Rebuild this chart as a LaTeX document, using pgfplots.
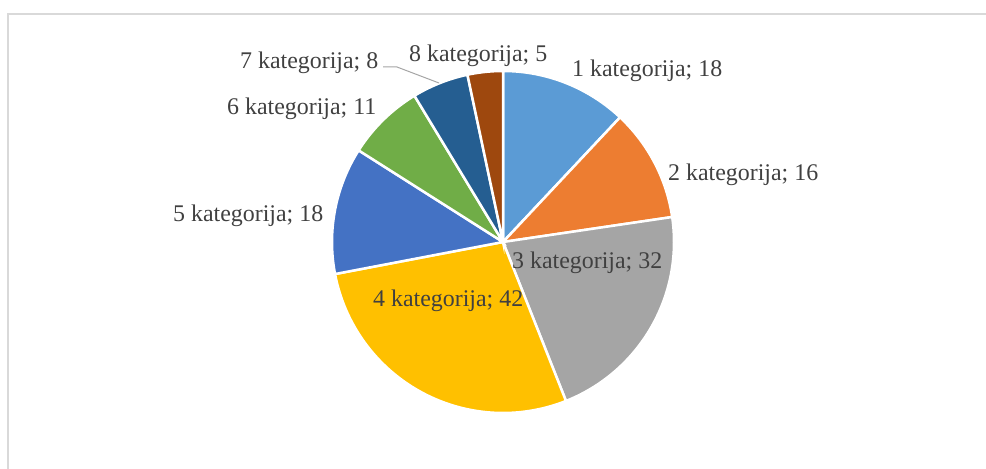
\documentclass[border=0pt]{standalone}
\usepackage{fontspec}
\setmainfont{Liberation Serif}
\usepackage{pgfplots}
\usepackage{pgfplotstable}
\pgfplotsset{compat=1.18}

\definecolor{pie0}{HTML}{5B9BD5}
\definecolor{pie1}{HTML}{ED7D31}
\definecolor{pie2}{HTML}{A5A5A5}
\definecolor{pie3}{HTML}{FFC000}
\definecolor{pie4}{HTML}{4472C4}
\definecolor{pie5}{HTML}{70AD47}
\definecolor{pie6}{HTML}{255E91}
\definecolor{pie7}{HTML}{9E480E}
\definecolor{lbl}{HTML}{404040}
\definecolor{frame}{HTML}{D9D9D9}

% category, value, label position (left x, baseline y in px from top)
\pgfplotstableread{
cat value lx ly
1 18 572 77
2 16 668 181
3 32 512 269
4 42 373 307
5 18 173 222
6 11 227 115
7 8 240 69
8 5 409 62
}\piedata

\begin{document}
\begin{tikzpicture}
\begin{axis}[scale only axis,width=986bp,height=469bp,
  xmin=0,xmax=986,ymin=0,ymax=469,
  axis lines=none,clip=true]
  % chart frame (only top and left edges are inside the picture)
  \draw[frame,line width=1.5bp] (axis cs:8,0) -- (axis cs:8,455) -- (axis cs:986,455);
  \def\cum{0}
  \pgfplotsforeachungrouped \i in {0,...,7}{%
    \pgfplotstablegetelem{\i}{value}\of\piedata
    \pgfmathsetmacro\a{90-\cum/150*360}%
    \pgfmathsetmacro\cum{\cum+\pgfplotsretval}%
    \pgfmathsetmacro\b{90-\cum/150*360}%
    \edef\temp{\noexpand\addplot[fill=pie\i,draw=white,line width=2.5bp,
      domain=\b:\a,samples=80,variable=\noexpand\t]
      ({503+171*cos(\noexpand\t)},{227+171*sin(\noexpand\t)}) -- (axis cs:503,227) -- cycle;}%
    \temp
  }
  % leader line for category 7
  \draw[color=pie2,line width=1bp] (axis cs:383,402) -- (axis cs:397,402) -- (axis cs:439,386);
  \pgfplotsforeachungrouped \i in {0,...,7}{%
    \pgfplotstablegetelem{\i}{cat}\of\piedata \let\c\pgfplotsretval
    \pgfplotstablegetelem{\i}{value}\of\piedata \let\v\pgfplotsretval
    \pgfplotstablegetelem{\i}{lx}\of\piedata \let\x\pgfplotsretval
    \pgfplotstablegetelem{\i}{ly}\of\piedata \let\y\pgfplotsretval
    \pgfmathsetmacro\yy{469-\y}%
    \edef\temp{\noexpand\node[anchor=base west,inner sep=0pt,text=lbl,
      font=\noexpand\fontsize{24}{28}\noexpand\selectfont]
      at (axis cs:\x,\yy) {\c\space kategorija; \v};}%
    \temp
  }
\end{axis}
\path (current axis.south west) rectangle (current axis.north east);
\end{tikzpicture}
\end{document}
